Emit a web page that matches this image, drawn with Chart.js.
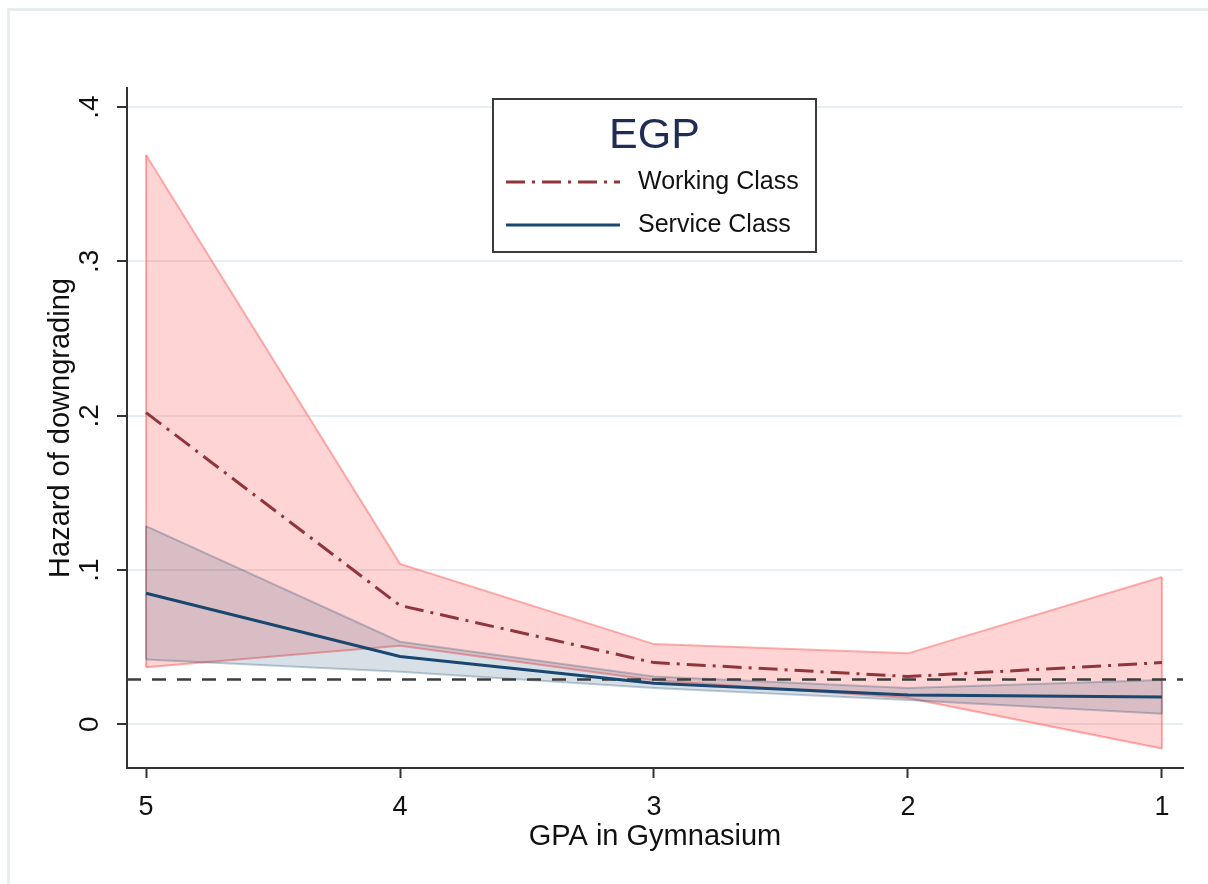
<!DOCTYPE html>
<html lang="en">
<head>
  <meta charset="UTF-8" />
  <title>Hazard of downgrading by GPA</title>
  <script src="https://cdn.jsdelivr.net/npm/chart.js"></script>
  <style>
    body {
      margin: 0;
      background: #fff;
    }
    canvas {
      display: block;
    }
  </style>
</head>
<body>

  <canvas id="hazardChart" width="1208" height="884"></canvas>

  <script>
    // GPA categories (axis runs 5 -> 1)
    const gpa = [5, 4, 3, 2, 1];
    const gpaLabels = ['5', '4', '3', '2', '1'];

    // Working class: estimate and 95% band
    const workingHazard = [0.202, 0.077, 0.040, 0.031, 0.040];
    const workingUpper  = [0.369, 0.104, 0.052, 0.046, 0.0955];
    const workingLower  = [0.037, 0.051, 0.0285, 0.017, -0.0156];

    // Service class: estimate and 95% band
    const serviceHazard = [0.085, 0.044, 0.0266, 0.019, 0.0177];
    const serviceUpper  = [0.1285, 0.0535, 0.031, 0.0235, 0.0287];
    const serviceLower  = [0.042, 0.034, 0.0235, 0.0157, 0.0069];

    // overall hazard reference
    const overallHazard = 0.029;

    const yTickValues = [0, 0.1, 0.2, 0.3, 0.4];
    const yTickLabels = ['0', '.1', '.2', '.3', '.4'];
    const xRange = [0.917, 5.075];
    const yRange = [-0.0283, 0.4124];

    const MAROON = 'rgb(144, 53, 59)';
    const NAVY = 'rgb(26, 71, 111)';
    const FONT = "'Liberation Sans', Arial, sans-serif";

    Chart.defaults.font.family = FONT;

    const pts = ys => gpa.map((x, i) => ({ x: x, y: ys[i] }));
    // vertical closing edges of a band at both ends
    const edges = (lo, hi) => {
      const n = gpa.length - 1;
      return [
        { x: gpa[0], y: lo[0] }, { x: gpa[0], y: hi[0] }, { x: gpa[0], y: null },
        { x: gpa[n], y: lo[n] }, { x: gpa[n], y: hi[n] }
      ];
    };

    const pinkEdge = 'rgba(255, 110, 110, 0.55)';
    const pinkFill = 'rgba(255, 0, 0, 0.17)';
    const greyEdge = 'rgba(26, 71, 111, 0.28)';
    const greyFill = 'rgba(26, 71, 111, 0.17)';

    // frame around the graph region and the boxed legend
    const stataDecor = {
      id: 'stataDecor',
      beforeDraw(chart) {
        const ctx = chart.ctx;
        ctx.save();
        ctx.strokeStyle = '#e8eef0';
        ctx.lineWidth = 3;
        ctx.strokeRect(8.5, 9.5, 1400, 1000);
        ctx.restore();
      },
      afterDraw(chart) {
        const ctx = chart.ctx;
        const entries = chart.data.datasets.filter(d => d.inLegend);
        const box = { x: 493, y: 99, w: 323, h: 153 };
        ctx.save();
        ctx.fillStyle = '#fff';
        ctx.fillRect(box.x, box.y, box.w, box.h);
        ctx.strokeStyle = '#3a3a3a';
        ctx.lineWidth = 2;
        ctx.strokeRect(box.x, box.y, box.w, box.h);

        ctx.fillStyle = '#1f2d56';
        ctx.font = '43px ' + FONT;
        ctx.textAlign = 'center';
        ctx.textBaseline = 'middle';
        ctx.fillText('EGP', box.x + box.w / 2, box.y + 37);

        entries.forEach((d, i) => {
          const y = box.y + 83 + i * 43;
          ctx.strokeStyle = d.borderColor;
          ctx.lineWidth = d.borderWidth;
          ctx.setLineDash(d.borderDash || []);
          ctx.beginPath();
          ctx.moveTo(box.x + 13, y);
          ctx.lineTo(box.x + 127, y);
          ctx.stroke();
          ctx.setLineDash([]);
          ctx.fillStyle = '#111';
          ctx.font = '25px ' + FONT;
          ctx.textAlign = 'left';
          ctx.fillText(d.label, box.x + 145, y);
        });
        ctx.restore();
      }
    };

    const ctx = document.getElementById('hazardChart').getContext('2d');

    new Chart(ctx, {
      type: 'line',
      data: {
        datasets: [
          {
            label: 'Working Class',
            inLegend: true,
            data: pts(workingHazard),
            borderColor: MAROON,
            borderWidth: 3,
            borderDash: [19, 7, 3, 7]
          },
          {
            label: 'Service Class',
            inLegend: true,
            data: pts(serviceHazard),
            borderColor: NAVY,
            borderWidth: 3
          },
          {
            label: 'overall',
            data: [{ x: xRange[1], y: overallHazard }, { x: xRange[0], y: overallHazard }],
            borderColor: '#3c3c3c',
            borderWidth: 2.5,
            borderDash: [14, 11]
          },
          {
            label: 'service upper',
            data: pts(serviceUpper),
            borderColor: greyEdge,
            borderWidth: 2,
            backgroundColor: greyFill,
            fill: '+1'
          },
          {
            label: 'service lower',
            data: pts(serviceLower),
            borderColor: greyEdge,
            borderWidth: 2
          },
          {
            label: 'service ends',
            data: edges(serviceLower, serviceUpper),
            borderColor: greyEdge,
            borderWidth: 2,
            spanGaps: false
          },
          {
            label: 'working upper',
            data: pts(workingUpper),
            borderColor: pinkEdge,
            borderWidth: 2,
            backgroundColor: pinkFill,
            fill: '+1'
          },
          {
            label: 'working lower',
            data: pts(workingLower),
            borderColor: pinkEdge,
            borderWidth: 2
          },
          {
            label: 'working ends',
            data: edges(workingLower, workingUpper),
            borderColor: pinkEdge,
            borderWidth: 2,
            spanGaps: false
          }
        ]
      },
      options: {
        responsive: false,
        animation: false,
        layout: { padding: { top: 88, right: 25, left: 0, bottom: 0 } },
        elements: {
          point: { radius: 0, hoverRadius: 0 },
          line: { tension: 0, borderCapStyle: 'butt' }
        },
        plugins: {
          legend: { display: false },
          tooltip: { enabled: false }
        },
        scales: {
          x: {
            type: 'linear',
            reverse: true,
            min: xRange[0],
            max: xRange[1],
            afterBuildTicks: s => { s.ticks = gpa.map(v => ({ value: v })); },
            afterFit: s => { s.height = 116; },
            ticks: {
              autoSkip: false,
              maxRotation: 0,
              padding: 13,
              color: '#111',
              font: { size: 27 },
              callback: (v, i) => gpaLabels[i]
            },
            grid: {
              drawOnChartArea: false,
              tickLength: 10,
              tickColor: '#333',
              tickWidth: 2
            },
            border: { display: true, color: '#333', width: 2 },
            title: {
              display: true,
              text: 'GPA in Gymnasium',
              color: '#111',
              font: { size: 29 },
              padding: { top: 0, bottom: 30 }
            }
          },
          y: {
            min: yRange[0],
            max: yRange[1],
            afterBuildTicks: s => { s.ticks = yTickValues.map(v => ({ value: v })); },
            afterFit: s => { s.width = 127; },
            ticks: {
              minRotation: 90,
              maxRotation: 90,
              crossAlign: 'center',
              padding: 15,
              color: '#111',
              font: { size: 28 },
              callback: (v, i) => yTickLabels[i]
            },
            grid: {
              color: '#e6eff1',
              lineWidth: 2,
              tickLength: 10,
              tickColor: '#333',
              tickWidth: 2
            },
            border: { display: true, color: '#333', width: 2 },
            title: {
              display: true,
              text: 'Hazard of downgrading',
              color: '#111',
              font: { size: 29 },
              padding: { top: 44, bottom: 0 }
            }
          }
        }
      },
      plugins: [stataDecor]
    });
  </script>

</body>
</html>
